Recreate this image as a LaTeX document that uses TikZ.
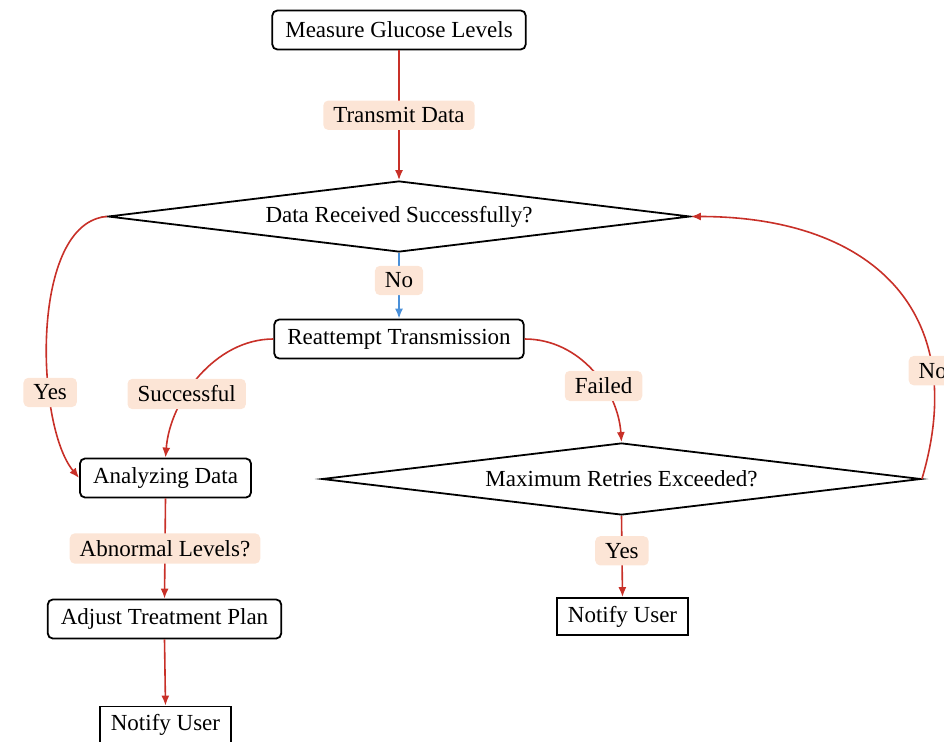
\documentclass[tikz,border=0pt]{standalone}
\usepackage{fontspec}
\setmainfont{Liberation Serif}
\usetikzlibrary{shapes.geometric,arrows.meta}
\definecolor{edgered}{RGB}{200,48,40}
\definecolor{edgeblue}{RGB}{74,144,217}
\definecolor{lblfill}{RGB}{252,229,214}
\tikzset{
  procbox/.style={draw=black, line width=1.8pt, rounded corners=5pt, fill=white,
    inner xsep=13pt, minimum height=39pt, font=\fontsize{23}{25}\selectfont},
  endbox/.style={draw=black, line width=1.8pt, fill=white,
    inner xsep=11pt, minimum height=37pt, font=\fontsize{23}{25}\selectfont},
  decbox/.style={draw=black, line width=1.8pt, diamond, aspect=8, inner sep=0pt, fill=white,
    font=\fontsize{23}{25}\selectfont},
  lbl/.style={fill=lblfill, rounded corners=5pt, inner xsep=10pt, inner ysep=7pt,
    font=\fontsize{23}{25}\selectfont},
  redarrow/.style={draw=edgered, line width=1.6pt, -{Latex[length=10pt,width=8pt]}},
  bluearrow/.style={draw=edgeblue, line width=1.6pt, -{Latex[length=10pt,width=8pt]}},
}
\begin{document}
\begin{tikzpicture}[x=1pt,y=-1pt]
\useasboundingbox (0,0) rectangle (944,741);
\clip (0,0) rectangle (944,741);

\node[procbox] (measure) at (399,30) {Measure Glucose Levels};
\node[decbox, minimum width=582pt, minimum height=71pt] (recv) at (399,216.5) {Data Received Successfully?};
\node[procbox] (retry) at (399,339) {Reattempt Transmission};
\node[procbox] (analyze) at (165.5,478) {Analyzing Data};
\node[decbox, minimum width=599pt, minimum height=72pt] (maxr) at (621.5,479) {Maximum Retries Exceeded?};
\node[procbox] (adjust) at (164.5,619) {Adjust Treatment Plan};
\node[endbox] (notifyR) at (622.5,616.5) {Notify User};
\node[endbox] (notifyL) at (165.5,725) {Notify User};

\draw[redarrow] (measure.south) -- node[lbl] {Transmit Data} (recv.north);
\draw[bluearrow] (recv.south) -- node[lbl, pos=0.42] {No} (retry.north);
\draw[redarrow] (recv.west) .. controls (30,222) and (35,425) .. node[lbl, pos=0.68] {Yes} (analyze.west);
\draw[redarrow] (retry.west) .. controls (215,339) and (170,400) .. node[lbl, pos=0.62] {Successful} (analyze.north);
\draw[redarrow] (retry.east) .. controls (580,339) and (618,390) .. node[lbl, pos=0.62] {Failed} (maxr.north);
\draw[redarrow] (maxr.east) .. controls (972,310) and (870,216.5) .. node[lbl, pos=0.24] {No} (recv.east);
\draw[redarrow] (analyze.south) -- node[lbl] {Abnormal Levels?} (adjust.north);
\draw[redarrow] (adjust.south) -- (notifyL.north);
\draw[redarrow] (maxr.south) -- node[lbl, pos=0.43] {Yes} (notifyR.north);
\end{tikzpicture}
\end{document}
